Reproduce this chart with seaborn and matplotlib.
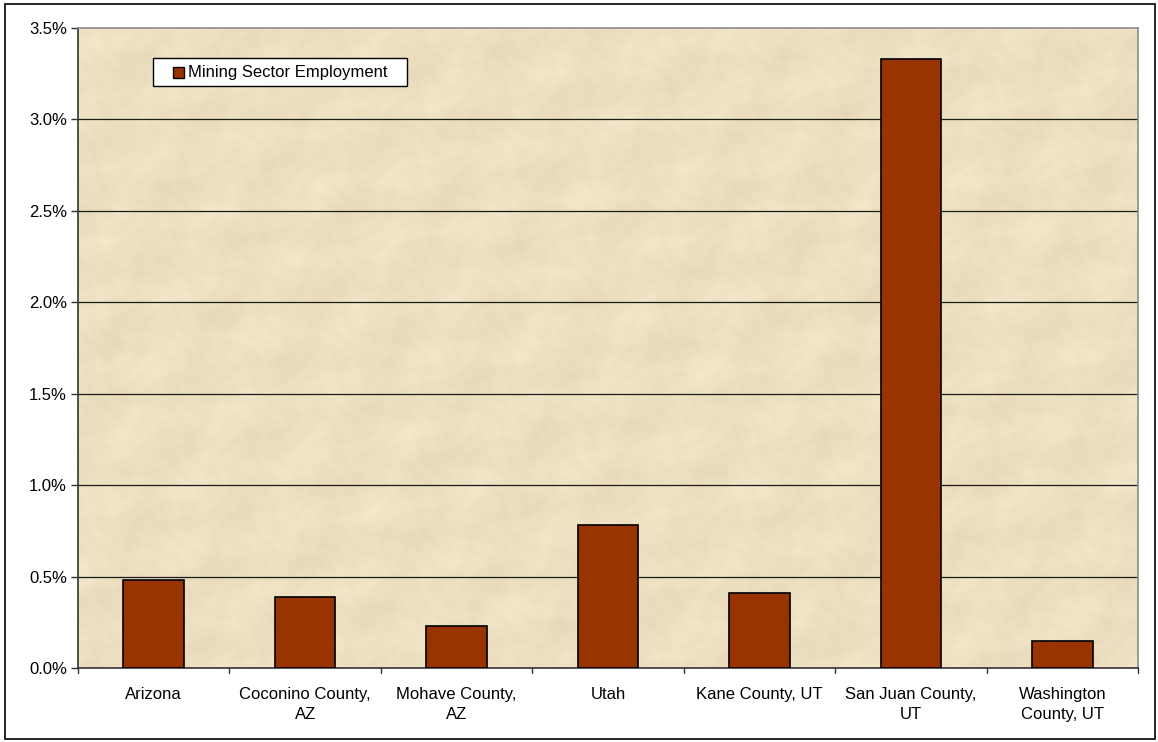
import numpy as np
import pandas as pd
import matplotlib
matplotlib.use("Agg")
import matplotlib.pyplot as plt
from matplotlib.patches import Rectangle
from matplotlib.ticker import FuncFormatter, MultipleLocator
import seaborn as sns

# Share of employment in the mining sector
regions = ["Arizona", "Coconino County,\nAZ", "Mohave County,\nAZ", "Utah",
           "Kane County, UT", "San Juan County,\nUT", "Washington\nCounty, UT"]
mining_share = [0.0048, 0.0039, 0.0023, 0.0078, 0.0041, 0.0333, 0.0015]
series_name = "Mining Sector Employment"

df = pd.DataFrame({"region": regions, "share": mining_share, "series": series_name})

sns.set_theme(style="white")
plt.rcParams["font.family"] = ["Liberation Sans", "DejaVu Sans"]

fig = plt.figure(figsize=(11.58, 7.42), dpi=100)
W, H = 1158, 742
left, right, top, bottom = 78, 1138, 28, 668
ax = fig.add_axes([left / W, 1 - bottom / H, (right - left) / W, (bottom - top) / H])

# parchment-like backdrop: soft tiles plus fine mottling from smooth waves
yy, xx = np.mgrid[0:640, 0:1060].astype(float)
u, v = xx / 38.0, yy / 38.0
tiles = np.sin(u * 1.7 + v * 2.3) * np.cos(u * 0.9 - v * 1.3)
mottle = (np.sin(xx / 7.0 + np.sin(yy / 11.0) * 2) * np.cos(yy / 6.0 + np.cos(xx / 13.0) * 2)
          + 0.6 * np.sin((xx + 2 * yy) / 17.0) * np.cos((2 * xx - yy) / 29.0)
          + 0.4 * np.sin(xx / 2.7 + yy / 3.9) * np.cos(yy / 2.3 - xx / 5.1))
tex = 0.45 * tiles + 0.55 * mottle / 2.0
base = np.array([237, 224, 193]) / 255.0
var = np.array([8, 9, 11]) / 255.0
img = base[None, None, :] + tex[..., None] * var[None, None, :]
ax.imshow(np.clip(img, 0, 1), extent=(-0.5, 6.5, 0, 0.035), aspect="auto",
          zorder=0, interpolation="bilinear")

sns.barplot(data=df, x="region", y="share", hue="series", palette=["#993300"],
            width=0.40, edgecolor="black", linewidth=1.2, ax=ax, zorder=3,
            saturation=1, legend=False)

ax.set_xlim(-0.5, 6.5)
ax.set_ylim(0, 0.035)
ax.yaxis.set_major_locator(MultipleLocator(0.005))
ax.yaxis.set_major_formatter(FuncFormatter(lambda v, p: f"{v * 100:.1f}%"))
ax.set_xlabel("")
ax.set_ylabel("")

for y in np.arange(0.005, 0.0349, 0.005):
    ax.axhline(y, color="#1a1a1a", lw=0.9, zorder=1)

ax.set_xticks(np.arange(7))
ax.set_xticklabels(regions, fontsize=12, color="black", linespacing=1.45)
ax.tick_params(axis="x", length=0, pad=13.5)
ax.tick_params(axis="y", length=5, width=1, color="#333333", direction="out",
               labelsize=12, labelcolor="black", pad=3, left=True)
# boundary ticks between categories
for xb in np.arange(-0.5, 6.6, 1.0):
    ax.plot([xb, xb], [0, -0.00028], color="#333333", lw=1, clip_on=False,
            zorder=5)

for s in ["left", "bottom"]:
    ax.spines[s].set_color("#333333")
    ax.spines[s].set_linewidth(1.2)
for s in ["top", "right"]:
    ax.spines[s].set_color("#8c8c8c")
    ax.spines[s].set_linewidth(1.2)

# legend: white framed box with a square swatch
lx0, lx1, ly0, ly1 = 153, 407, 58, 86
ax.add_patch(Rectangle(((lx0 - left) / (right - left), (bottom - ly1) / (bottom - top)),
                       (lx1 - lx0) / (right - left), (ly1 - ly0) / (bottom - top),
                       transform=ax.transAxes, facecolor="white", edgecolor="black",
                       lw=1, zorder=6))
ax.add_patch(Rectangle(((173 - left) / (right - left), (bottom - 78) / (bottom - top)),
                       11 / (right - left), 11 / (bottom - top),
                       transform=ax.transAxes, facecolor=ax.patches[0].get_facecolor(),
                       edgecolor="black", lw=1, zorder=7))
ax.text((188 - left) / (right - left), (bottom - 72.5) / (bottom - top), series_name,
        transform=ax.transAxes, fontsize=12, va="center", ha="left", zorder=8,
        color="black")

fig.patches.append(Rectangle((5 / W, 3 / H), 1150 / W, 735 / H, transform=fig.transFigure,
                             fill=False, edgecolor="black", lw=1.2))

fig.savefig("out.png", dpi=100, facecolor="white")
